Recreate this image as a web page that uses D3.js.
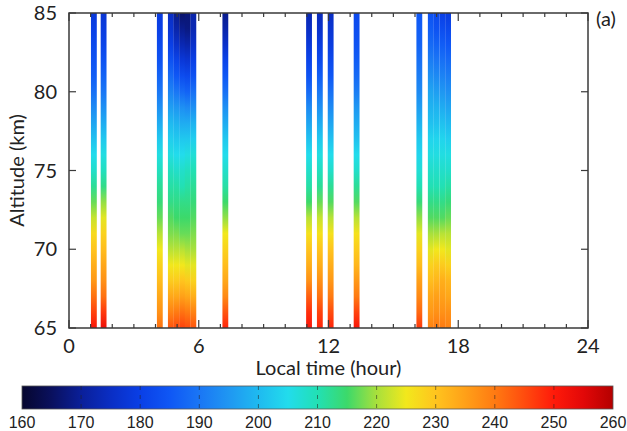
<!DOCTYPE html>
<html>
<head>
<meta charset="utf-8">
<script src="https://cdn.jsdelivr.net/npm/d3@7"></script>
<style>
  html, body { margin: 0; padding: 0; background: #fff; }
  svg { display: block; }
</style>
</head>
<body>
<svg id="chart" width="627" height="431"></svg>
<script>
// Altitude grid of every temperature profile (km)
const altitudes = [65, 66, 67, 68, 69, 70, 71, 72, 73, 74, 75, 76, 77, 78, 79, 80, 81, 82, 83, 84, 85];

// Local time (hour) at the centre of each observed profile
const localTime = [1.15, 1.60, 4.20, 4.71, 4.97, 5.23, 5.49, 5.75, 7.23,
                   11.10, 11.60, 12.10, 13.30, 16.20, 16.73, 16.99, 17.26, 17.53];

// Temperature (K) for each profile, listed from 65 km up to 85 km
const temperature = [
  [251, 246, 241, 236, 233, 230, 227, 222, 217, 212, 208, 205, 201, 197, 193, 189, 186, 184, 182, 180, 178],
  [253, 247, 241, 237, 234, 231, 228, 224, 219, 213, 209, 206, 202, 198, 194, 190, 187, 184, 181, 179, 177],
  [241, 237, 234, 231, 228, 225, 221, 217, 214, 212, 209, 206, 202, 198, 194, 190, 187, 184, 182, 180, 179],
  [244, 239, 234, 229, 225, 221, 218, 216, 213, 211, 209, 206, 203, 200, 196, 192, 188, 184, 180, 177, 175],
  [245, 240, 234, 229, 225, 221, 218, 215, 213, 211, 208, 205, 202, 199, 195, 190, 185, 181, 176, 172, 169],
  [246, 241, 235, 230, 225, 221, 217, 215, 213, 210, 208, 205, 202, 198, 194, 188, 183, 178, 173, 169, 166],
  [245, 240, 234, 229, 224, 220, 217, 215, 213, 211, 209, 206, 202, 198, 193, 187, 182, 177, 172, 168, 167],
  [244, 239, 233, 228, 224, 220, 218, 216, 214, 212, 210, 207, 203, 199, 194, 189, 184, 180, 176, 173, 172],
  [249, 244, 238, 234, 231, 228, 225, 219, 215, 211, 208, 205, 202, 198, 194, 189, 185, 181, 176, 172, 169],
  [251, 248, 243, 237, 233, 230, 226, 221, 215, 211, 208, 205, 201, 197, 193, 188, 184, 181, 178, 175, 173],
  [249, 246, 241, 237, 233, 230, 226, 222, 217, 212, 209, 206, 202, 198, 194, 190, 186, 182, 179, 176, 174],
  [249, 245, 240, 236, 233, 230, 226, 221, 216, 212, 208, 205, 201, 197, 193, 189, 185, 182, 179, 177, 175],
  [251, 246, 240, 236, 232, 229, 226, 221, 216, 212, 208, 205, 201, 198, 195, 191, 188, 186, 184, 183, 182],
  [247, 242, 238, 235, 231, 228, 224, 219, 214, 210, 207, 204, 202, 199, 196, 193, 191, 189, 187, 186, 185],
  [239, 236, 234, 231, 228, 224, 220, 216, 213, 210, 208, 206, 204, 201, 199, 197, 194, 191, 188, 186, 184],
  [240, 237, 235, 232, 229, 225, 220, 216, 213, 210, 208, 206, 204, 201, 199, 196, 193, 190, 187, 184, 182],
  [240, 237, 235, 233, 229, 225, 221, 216, 213, 210, 208, 206, 204, 201, 198, 195, 192, 189, 186, 183, 180],
  [239, 237, 234, 232, 228, 224, 221, 217, 214, 211, 208, 206, 203, 200, 197, 194, 191, 188, 185, 182, 179]
];

// Duration covered by one profile (hour)
const profileWidth = 0.27;

// Axis ticks
const xTicks = [0, 6, 12, 18, 24];
const xMinorTicks = d3.range(0, 25, 1);
const yTicks = [65, 70, 75, 80, 85];
const colorTicks = [160, 170, 180, 190, 200, 210, 220, 230, 240, 250, 260];

// Colour map (K -> colour)
const colorValues = [160, 165, 170, 175, 180, 185, 190, 195, 200, 205, 210,
                     215, 220, 225, 230, 235, 240, 245, 250, 255, 260];
const colorList = ["#06062e", "#0a105e", "#0a1f99", "#0a2ec4", "#0a3fe6", "#0f57f5",
                   "#1a76f5", "#1f97f2", "#1fbaf0", "#22dcec", "#22e0b4", "#3cd96a",
                   "#a8e03c", "#f2e81c", "#ffc41e", "#ffa018", "#ff7a12", "#ff4c0e",
                   "#ff1a0a", "#e20808", "#b40000"];

const svg = d3.select("#chart");
const margin = { left: 69, right: 588, top: 13, bottom: 328 };

const x = d3.scaleLinear().domain([0, 24]).range([margin.left, margin.right]);
const y = d3.scaleLinear().domain([65, 85]).range([margin.bottom, margin.top]);
const color = d3.scaleLinear().domain(colorValues).range(colorList).clamp(true);

const FONT = "Lato, 'Open Sans', sans-serif";
const AXIS = "#3a3a3a";

// Vertical gradients, one per profile; stops run from the top (85 km) down
const defs = svg.append("defs");
localTime.forEach((t, i) => {
  const g = defs.append("linearGradient")
    .attr("id", "prof" + i)
    .attr("gradientUnits", "userSpaceOnUse")
    .attr("x1", 0).attr("x2", 0)
    .attr("y1", y(85)).attr("y2", y(65));
  const order = d3.range(altitudes.length).reverse();
  order.forEach(k => {
    g.append("stop")
      .attr("offset", (y(altitudes[k]) - y(85)) / (y(65) - y(85)))
      .attr("stop-color", color(temperature[i][k]));
  });
});

// Profiles
svg.append("g").selectAll("rect")
  .data(localTime)
  .join("rect")
  .attr("x", t => x(t - profileWidth / 2))
  .attr("width", t => x(t + profileWidth / 2) - x(t - profileWidth / 2))
  .attr("y", y(85))
  .attr("height", y(65) - y(85))
  .attr("fill", (t, i) => "url(#prof" + i + ")");

// Frame
svg.append("rect")
  .attr("x", x(0)).attr("y", y(85))
  .attr("width", x(24) - x(0)).attr("height", y(65) - y(85))
  .attr("fill", "none").attr("stroke", AXIS).attr("stroke-width", 1.5);

// Inward ticks on all four sides
const tickG = svg.append("g").attr("stroke", AXIS).attr("stroke-width", 1.2);
xMinorTicks.forEach(h => {
  const len = xTicks.includes(h) ? 8 : 4;
  tickG.append("line").attr("x1", x(h)).attr("x2", x(h)).attr("y1", y(65)).attr("y2", y(65) - len);
  tickG.append("line").attr("x1", x(h)).attr("x2", x(h)).attr("y1", y(85)).attr("y2", y(85) + len);
});
yTicks.forEach(a => {
  tickG.append("line").attr("x1", x(0)).attr("x2", x(0) + 7).attr("y1", y(a)).attr("y2", y(a));
  tickG.append("line").attr("x1", x(24)).attr("x2", x(24) - 7).attr("y1", y(a)).attr("y2", y(a));
});

// Tick labels
svg.append("g").selectAll("text")
  .data(xTicks).join("text")
  .attr("x", d => x(d)).attr("y", 353)
  .attr("text-anchor", "middle")
  .attr("font-family", FONT).attr("font-size", 20).attr("fill", "#222")
  .text(d => d);

svg.append("g").selectAll("text")
  .data(yTicks).join("text")
  .attr("x", 57).attr("y", d => y(d) + 7)
  .attr("text-anchor", "end")
  .attr("font-family", FONT).attr("font-size", 20).attr("fill", "#222")
  .text(d => d);

// Axis titles
svg.append("text")
  .attr("x", x(12)).attr("y", 375)
  .attr("text-anchor", "middle")
  .attr("font-family", FONT).attr("font-size", 20).attr("fill", "#222")
  .text("Local time (hour)");

svg.append("text")
  .attr("transform", `translate(24, ${y(75)}) rotate(-90)`)
  .attr("text-anchor", "middle")
  .attr("font-family", FONT).attr("font-size", 20).attr("fill", "#222")
  .text("Altitude (km)");

svg.append("text")
  .attr("x", 596).attr("y", 26)
  .attr("font-family", FONT).attr("font-size", 20).attr("fill", "#222")
  .text("(a)");

// Colour bar
const cb = d3.scaleLinear().domain([160, 260]).range([22, 613]);
const cbTop = 386, cbH = 23;
const cbGrad = defs.append("linearGradient")
  .attr("id", "cbar").attr("gradientUnits", "userSpaceOnUse")
  .attr("x1", cb(160)).attr("x2", cb(260)).attr("y1", 0).attr("y2", 0);
colorValues.forEach((v, i) => {
  cbGrad.append("stop")
    .attr("offset", (cb(v) - cb(160)) / (cb(260) - cb(160)))
    .attr("stop-color", colorList[i]);
});
svg.append("rect")
  .attr("x", cb(160)).attr("y", cbTop)
  .attr("width", cb(260) - cb(160)).attr("height", cbH)
  .attr("fill", "url(#cbar)")
  .attr("stroke", "#555").attr("stroke-width", 0.8);

svg.append("g").selectAll("line")
  .data(colorTicks.slice(1, -1)).join("line")
  .attr("x1", d => cb(d)).attr("x2", d => cb(d))
  .attr("y1", cbTop).attr("y2", cbTop + cbH)
  .attr("stroke", "#222").attr("stroke-opacity", 0.55)
  .attr("stroke-width", 1).attr("stroke-dasharray", "4,5");

svg.append("g").selectAll("text")
  .data(colorTicks).join("text")
  .attr("x", d => cb(d)).attr("y", 428)
  .attr("text-anchor", "middle")
  .attr("font-family", "'Liberation Sans', Arial, sans-serif")
  .attr("font-size", 16).attr("fill", "#222")
  .text(d => d);
</script>
</body>
</html>
